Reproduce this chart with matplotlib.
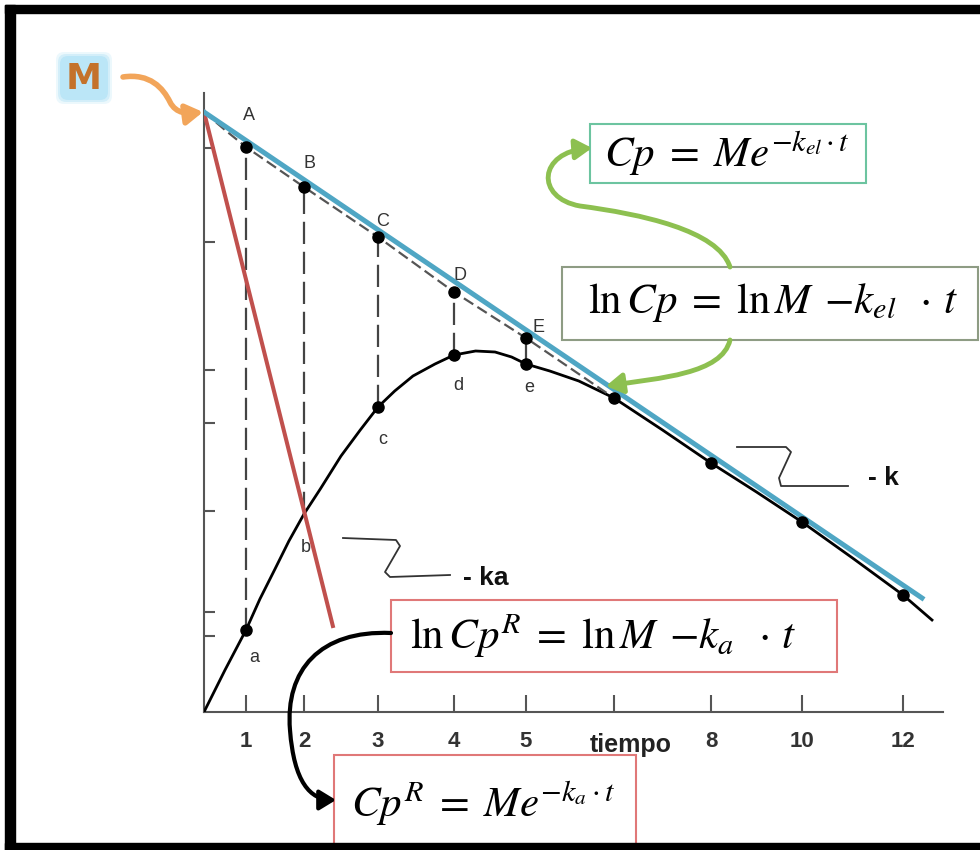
import numpy as np
import matplotlib.pyplot as plt
from matplotlib.patches import Rectangle, FancyArrowPatch, FancyBboxPatch
from matplotlib.path import Path

plt.rcParams['mathtext.fontset'] = 'stix'
plt.rcParams['font.family'] = ['Liberation Sans', 'DejaVu Sans']

# el eje de tiempo no esta a escala: posicion de cada tiempo sobre el eje
t_eje = [0, 1, 2, 3, 4, 5, 6, 8, 10, 12, 13]
pos_eje = [0, 42, 100, 174, 250, 322, 410, 507, 598, 699, 749]


def adelante(t):
    return np.interp(t, t_eje, pos_eje)


def atras(p):
    return np.interp(p, pos_eje, t_eje)


ln_M = 6.0

# ln Cp observado (curva negra)
t_curva = [0, 0.5, 1, 1.24, 1.5, 1.74, 2, 2.22, 2.5, 2.76, 3, 3.22, 3.46, 3.75, 4,
           4.3, 4.57, 4.8, 5, 5.27, 5.6, 6, 7, 8, 9, 10, 11, 12, 12.58]
lnCp = [0, 0.42, 0.82, 1.13, 1.43, 1.71, 1.98, 2.23, 2.56, 2.82, 3.05, 3.21, 3.36,
        3.48, 3.57, 3.61, 3.60, 3.55, 3.48, 3.41, 3.31, 3.14,
        2.82, 2.49, 2.20, 1.90, 1.54, 1.17, 0.92]

# curva extrapolada (puntos A-E)
t_extrap = [0, 0.5, 1, 2, 3, 4, 5, 6]
lnCp_extrap = [ln_M, 5.82, 5.65, 5.25, 4.75, 4.20, 3.74, 3.14]

# rectas de eliminacion (-k) y absorcion (-ka)
t_el = [0, 12.38]
ln_el = [ln_M, 1.14]
t_abs = [0, 2.39]
ln_abs = [ln_M, 0.86]

t_letras = [1, 2, 3, 4, 5]
letras_sup = ['A', 'B', 'C', 'D', 'E']
letras_inf = ['a', 'b', 'c', 'd', 'e']
t_puntos = [1, 3, 4, 5, 6, 8, 10, 12]

ticks_t = [1, 2, 3, 4, 5, 6, 8, 10, 12]
ticks_txt = ['1', '2', '3', '4', '5', '', '8', '10', '12']
ticks_y = [5.64, 4.70, 3.42, 2.89, 2.01, 1.00, 0.76]

W, H = 980, 850
fig = plt.figure(figsize=(W / 100, H / 100), dpi=100)
fig.patch.set_facecolor('white')

ax = fig.add_axes([204 / W, (H - 712) / H, 739 / W, 619 / H])
ax.set_xscale('function', functions=(adelante, atras))
ax.set_xlim(0, 12.8)
ax.set_ylim(0, 6.19)

ax.plot(t_curva, lnCp, color='black', lw=2, zorder=3)
ax.plot(t_extrap, lnCp_extrap, color='#555555', lw=1.6, dashes=(5, 2.2), zorder=3)

y_sup = np.interp(t_letras, t_extrap, lnCp_extrap)
y_inf = np.interp(t_letras, t_curva, lnCp)
for t, y0, y1 in zip(t_letras, y_inf, y_sup):
    ax.plot([t, t], [y0, y1], color='#444444', lw=1.6, dashes=(10, 3.5), zorder=2)

ax.plot(t_abs, ln_abs, color='#c0504d', lw=2.9, zorder=4)
ax.plot(t_el, ln_el, color='#4fa6c4', lw=3.6, zorder=5)

ax.plot(t_letras, y_sup, 'o', color='black', ms=8, zorder=6)
ax.plot(t_puntos, np.interp(t_puntos, t_curva, lnCp), 'o', color='black', ms=8, zorder=6)

off_sup = [(3, 32), (5, 24), (5, 15), (6, 17), (12, 10)]
off_inf = [(8, -28), (2, -34), (5, -33), (4, -31), (3, -23)]
for t, y, txt, off in zip(t_letras, y_sup, letras_sup, off_sup):
    ax.annotate(txt, (t, y), xytext=off, textcoords='offset pixels',
                ha='center', va='center', fontsize=13, color='#333333')
for t, y, txt, off in zip(t_letras, y_inf, letras_inf, off_inf):
    ax.annotate(txt, (t, y), xytext=off, textcoords='offset pixels',
                ha='center', va='center', fontsize=13, color='#333333')

ax.set_xticks(ticks_t)
ax.set_xticklabels(ticks_txt, fontsize=16, fontweight='bold', color='#333333')
ax.set_yticks(ticks_y)
ax.set_yticklabels([])
ax.tick_params(axis='x', direction='in', length=12, width=1.5, color='#555555', pad=14)
ax.tick_params(axis='y', direction='in', length=8, width=1.5, color='#555555')
ax.minorticks_off()
for lado in ['top', 'right']:
    ax.spines[lado].set_visible(False)
for lado in ['left', 'bottom']:
    ax.spines[lado].set_color('#555555')
    ax.spines[lado].set_linewidth(1.5)

# capa de anotaciones en pixeles
deco = fig.add_axes([0, 0, 1, 1])
deco.set_xlim(0, W)
deco.set_ylim(H, 0)
deco.axis('off')


def caja(x0, y0, x1, y1, color):
    deco.add_patch(Rectangle((x0, y0), x1 - x0, y1 - y0, facecolor='white',
                             edgecolor=color, lw=1.5, zorder=2))


def flecha(puntos, codigos, color, lw, escala=11):
    deco.add_patch(FancyArrowPatch(path=Path(puntos, codigos),
                                   arrowstyle='-|>,head_length=0.9,head_width=0.55',
                                   mutation_scale=escala, color=color, lw=lw,
                                   transform=deco.transData, zorder=3))


M_, C4 = Path.MOVETO, Path.CURVE4

caja(590, 124, 866, 183, '#6cc4a0')
deco.text(727, 153, r'$Cp\;=\;Me^{-k_{el}\cdot t}$', fontsize=31, ha='center', va='center', zorder=4)

caja(562, 267, 978, 340, '#8e9c84')
deco.text(773, 303, r'$\ln Cp\;=\;\ln M\;\,{-k_{el}}\;\;\cdot\, t$', fontsize=31,
          ha='center', va='center', zorder=4)

caja(391, 600, 837, 672, '#e07878')
deco.text(603, 636, r'$\ln Cp^R\;=\;\ln M\;\,{-k_a}\;\;\cdot\, t$', fontsize=31,
          ha='center', va='center', zorder=4)

caja(334, 755, 636, 860, '#e07878')
deco.text(483, 803, r'$Cp^R\;=\;Me^{-k_a \cdot t}$', fontsize=31, ha='center', va='center', zorder=4)

deco.text(631, 745, 'tiempo', fontsize=18, fontweight='bold', color='#222222',
          ha='center', va='center', zorder=5)

# flechas curvas
flecha([(730, 267), (718, 230), (640, 214), (580, 206), (535, 198), (538, 152), (592, 148)],
       [M_, C4, C4, C4, C4, C4, C4], '#8dc050', 3.5)
flecha([(730, 340), (722, 374), (660, 378), (606, 386)], [M_, C4, C4, C4], '#8dc050', 3.5)
flecha([(391, 633), (320, 630), (285, 670), (290, 730), (294, 782), (310, 800), (336, 800)],
       [M_, C4, C4, C4, C4, C4, C4], 'black', 3)
flecha([(123, 77), (150, 73), (163, 88), (170, 102), (176, 114), (188, 114), (203, 112)],
       [M_, C4, C4, C4, C4, C4, C4], '#f2a55a', 4)

# zigzags de las pendientes
zig_k = [(737, 447), (786, 447), (791, 452), (779, 478), (781, 486), (848, 486)]
zig_ka = [(343, 538), (396, 540), (400, 546), (385, 572), (390, 577), (450, 575)]
for zz in [zig_k, zig_ka]:
    xs, ys = zip(*zz)
    deco.plot(xs, ys, color='#333333', lw=1.3)
deco.text(868, 478, '- k', fontsize=19, fontweight='bold', color='#111111', ha='left', va='center')
deco.text(463, 578, '- ka', fontsize=19, fontweight='bold', color='#111111', ha='left', va='center')

# M con resplandor azul
for pad, alpha in [(12, 0.25), (8, 0.45), (4, 0.8)]:
    deco.add_patch(FancyBboxPatch((66 - pad / 2, 62 - pad / 2), 36 + pad, 32 + pad,
                                  boxstyle='round,pad=4,rounding_size=8',
                                  facecolor='#b6e4f7', edgecolor='none', alpha=alpha, zorder=1))
deco.text(84, 79, 'M', fontsize=26, fontweight='bold', color='#c4722a',
          family='DejaVu Sans', ha='center', va='center', zorder=2)

# marco negro
deco.add_patch(Rectangle((5, 5), 975, 8, color='black', zorder=10))
deco.add_patch(Rectangle((5, 5), 10, 845, color='black', zorder=10))
deco.add_patch(Rectangle((5, 843), 975, 7, color='black', zorder=10))

fig.savefig('out.png', dpi=100)
